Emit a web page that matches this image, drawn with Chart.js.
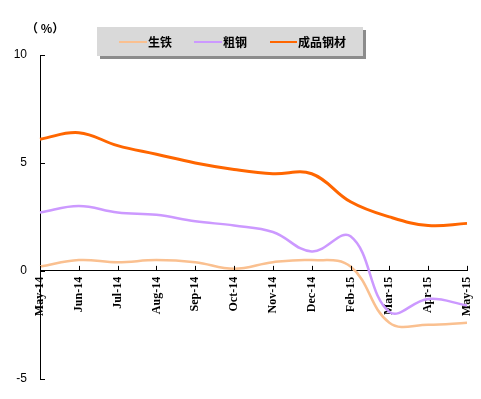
<!DOCTYPE html>
<html>
<head>
<meta charset="utf-8">
<script src="https://cdn.jsdelivr.net/npm/chart.js@4"></script>
<style>
  html, body { margin: 0; padding: 0; background: #fff; }
  #wrap { width: 481px; height: 399px; }
</style>
</head>
<body>
<div id="wrap"><canvas id="c" width="481" height="399"></canvas></div>
<script>
const months = ['May-14', 'Jun-14', 'Jul-14', 'Aug-14', 'Sep-14', 'Oct-14', 'Nov-14', 'Dec-14', 'Feb-15', 'Mar-15', 'Apr-15', 'May-15'];
const pigIron = [0.2, 0.5, 0.4, 0.5, 0.4, 0.1, 0.4, 0.5, 0.2, -2.4, -2.5, -2.4];   // 生铁
const crudeSteel = [2.7, 3.0, 2.7, 2.6, 2.3, 2.1, 1.8, 0.9, 1.6, -1.9, -1.3, -1.6]; // 粗钢
const steelProducts = [6.1, 6.4, 5.8, 5.4, 5.0, 4.7, 4.5, 4.5, 3.2, 2.5, 2.1, 2.2]; // 成品钢材
const yTicks = [-5, 0, 5, 10];

const names = ['生铁', '粗钢', '成品钢材'];
const colors = ['#fac090', '#cc99ff', '#ff6600'];

// tick marks pointing into the plot, axis title and the grey legend box
const decor = {
  id: 'decor',
  afterDraw(chart) {
    const ctx = chart.ctx;
    const x = chart.scales.x, y = chart.scales.y;
    const y0 = y.getPixelForValue(0);
    ctx.save();
    ctx.strokeStyle = '#000';
    ctx.lineWidth = 1;
    ctx.beginPath();
    months.forEach((m, i) => {
      const px = Math.round(x.getPixelForValue(i)) + 0.5;
      ctx.moveTo(px, y0);
      ctx.lineTo(px, y0 - 5);
    });
    yTicks.forEach(v => {
      const py = Math.round(y.getPixelForValue(v)) + 0.5;
      ctx.moveTo(x.left, py);
      ctx.lineTo(x.left + 5, py);
    });
    ctx.stroke();

    ctx.fillStyle = '#000';
    ctx.font = 'bold 12px "Noto Sans CJK SC"';
    ctx.textBaseline = 'middle';
    ctx.fillText('（ %）', 26, 28);

    // legend box with shadow
    ctx.fillStyle = '#8c8c8c';
    ctx.fillRect(100, 30, 266, 29);
    ctx.fillStyle = '#d9d9d9';
    ctx.fillRect(97, 27, 266, 29);

    const items = [[119, 147], [194, 222], [270, 297]];
    ctx.font = 'bold 12px "Noto Sans CJK SC"';
    names.forEach((n, i) => {
      ctx.strokeStyle = colors[i];
      ctx.lineWidth = 2;
      ctx.beginPath();
      ctx.moveTo(items[i][0], 42);
      ctx.lineTo(items[i][1], 42);
      ctx.stroke();
      ctx.fillStyle = '#000';
      ctx.fillText(n, items[i][1] + 1, 42);
    });
    ctx.restore();
  }
};

new Chart(document.getElementById('c'), {
  type: 'line',
  data: {
    labels: months,
    datasets: [
      { label: names[0], data: pigIron, borderColor: colors[0], borderWidth: 2.5 },
      { label: names[1], data: crudeSteel, borderColor: colors[1], borderWidth: 2.5 },
      { label: names[2], data: steelProducts, borderColor: colors[2], borderWidth: 3 }
    ]
  },
  options: {
    responsive: false,
    animation: false,
    layout: { padding: { top: 55, right: 14, bottom: 19, left: 0 } },
    elements: { point: { radius: 0 }, line: { tension: 0.4, fill: false } },
    plugins: { legend: { display: false }, tooltip: { enabled: false } },
    scales: {
      x: {
        position: { y: 0 },
        afterFit(s) { s.paddingLeft = 0; s.paddingRight = 0; },
        grid: { display: false, drawTicks: false },
        border: { display: true, color: '#000', width: 1 },
        ticks: {
          minRotation: 90, maxRotation: 90, autoSkip: false, padding: 6,
          color: '#000',
          font: { family: '"Liberation Serif"', weight: 'bold', size: 12 }
        }
      },
      y: {
        min: -5, max: 10,
        afterFit(s) { s.width = 40; },
        afterBuildTicks(s) { s.ticks = yTicks.map(v => ({ value: v })); },
        grid: { display: false, drawTicks: false },
        border: { display: true, color: '#000', width: 1 },
        ticks: {
          padding: 13, color: '#000',
          font: { family: '"Liberation Sans"', size: 12 }
        }
      }
    }
  },
  plugins: [decor]
});
</script>
</body>
</html>
